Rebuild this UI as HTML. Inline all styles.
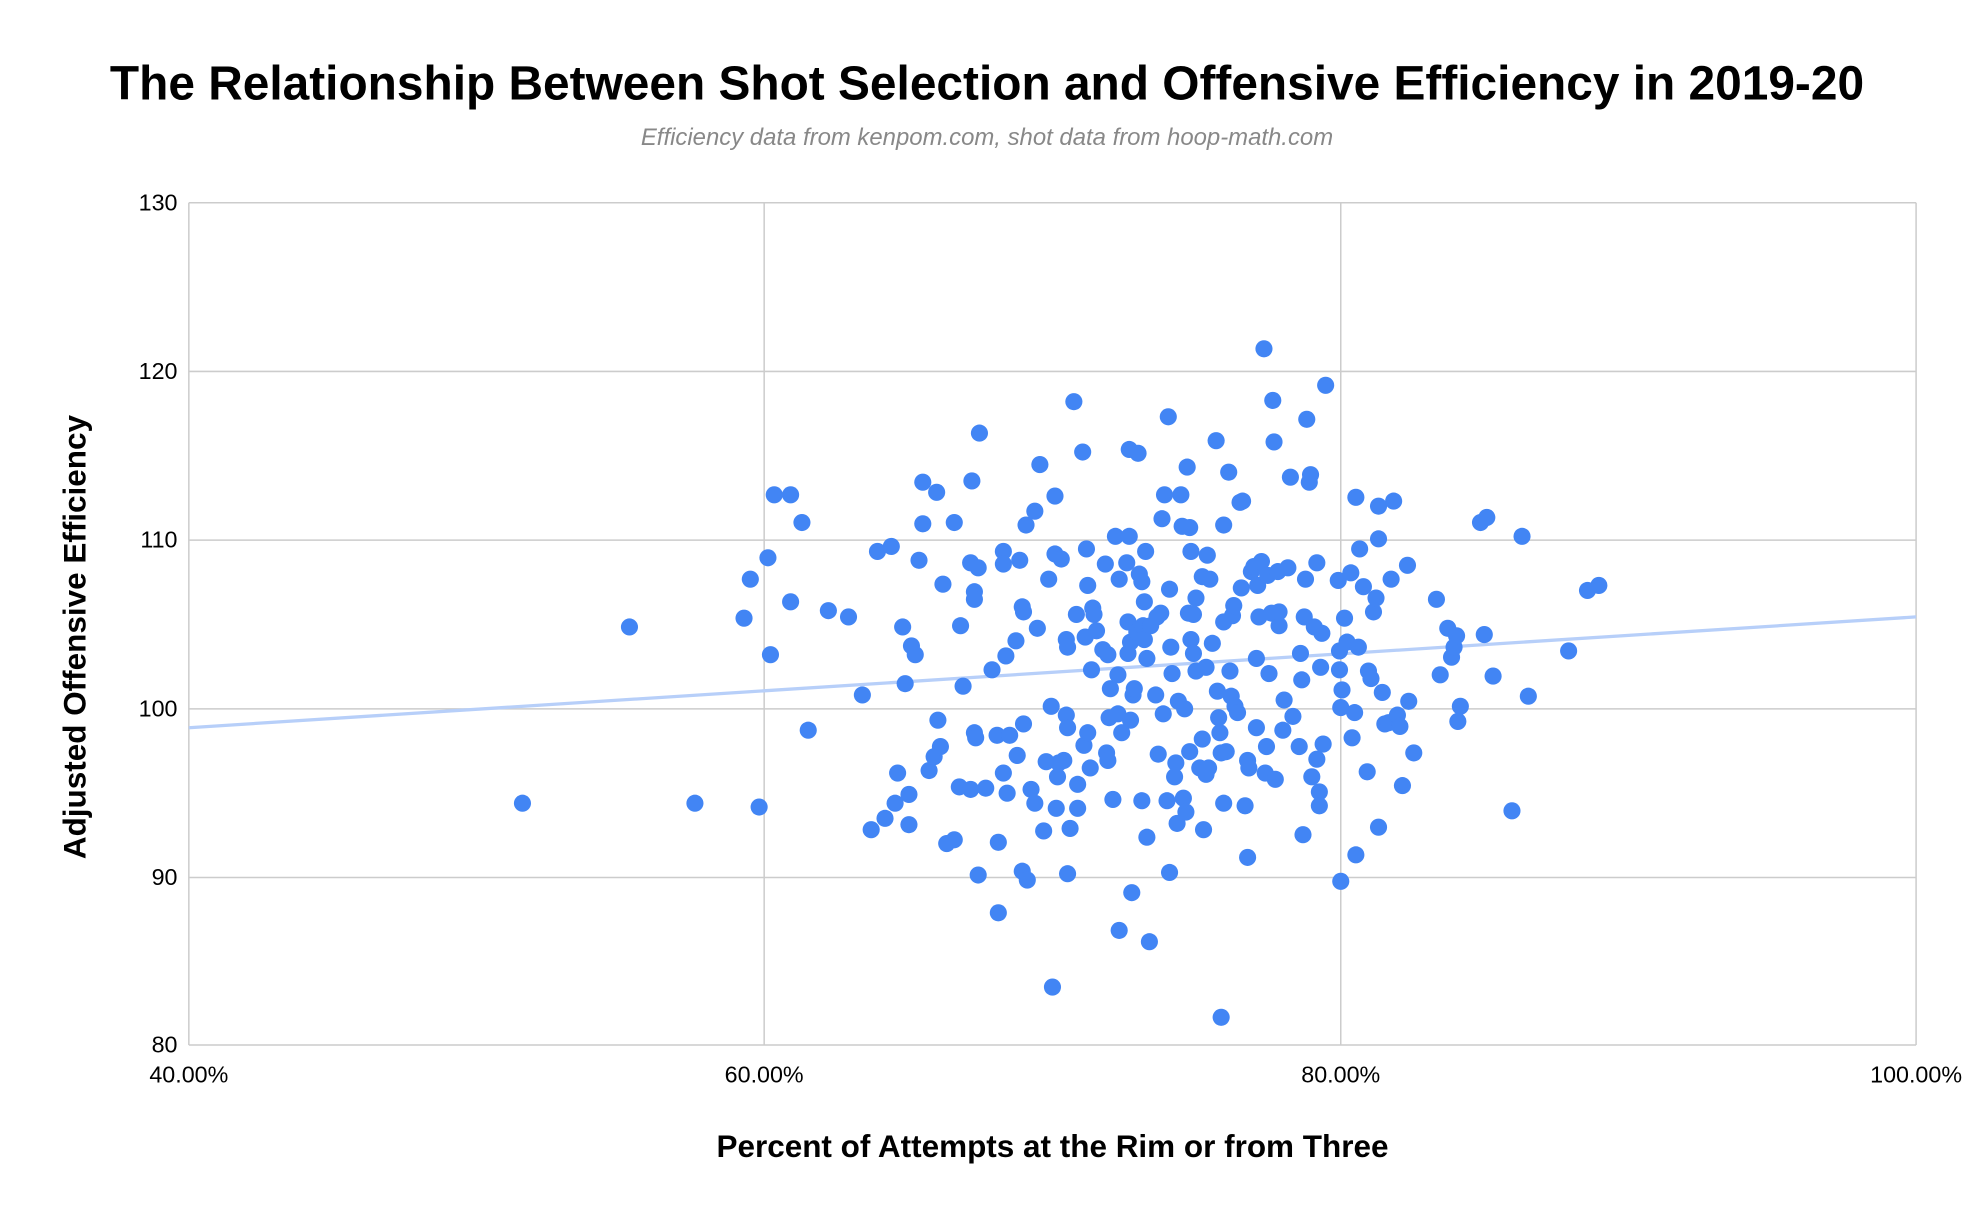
<!DOCTYPE html>
<html><head><meta charset="utf-8"><style>html,body{margin:0;padding:0;background:#fff}svg{display:block}</style></head>
<body>
<svg width="1974" height="1220" viewBox="0 0 1568 969" xmlns="http://www.w3.org/2000/svg" font-family="Liberation Sans, Arial, sans-serif">
<rect width="1568" height="969" fill="#fff"/>
<text x="784" y="79" text-anchor="middle" font-size="38" font-weight="bold" fill="#000">The Relationship Between Shot Selection and Offensive Efficiency in 2019-20</text>
<text x="784" y="115" text-anchor="middle" font-size="19" font-style="italic" fill="#888">Efficiency data from kenpom.com, shot data from hoop-math.com</text>
<g stroke="#ccc" stroke-width="1.2">
<line x1="150" y1="161" x2="1522" y2="161"/><line x1="150" y1="295" x2="1522" y2="295"/><line x1="150" y1="429" x2="1522" y2="429"/><line x1="150" y1="563" x2="1522" y2="563"/><line x1="150" y1="697" x2="1522" y2="697"/><line x1="150" y1="830" x2="1522" y2="830"/>
<line x1="150" y1="161" x2="150" y2="830"/><line x1="607" y1="161" x2="607" y2="830"/><line x1="1065" y1="161" x2="1065" y2="830"/><line x1="1522" y1="161" x2="1522" y2="830"/>
</g>
<g font-size="18.5" fill="#000" text-anchor="end">
<text x="141" y="167">130</text><text x="141" y="301">120</text><text x="141" y="435">110</text><text x="141" y="569">100</text><text x="141" y="703">90</text><text x="141" y="836">80</text>
</g>
<g font-size="18.5" fill="#000" text-anchor="middle">
<text x="150" y="860">40.00%</text><text x="607" y="860">60.00%</text><text x="1065" y="860">80.00%</text><text x="1522" y="860">100.00%</text>
</g>
<text x="836" y="919" text-anchor="middle" font-size="25" font-weight="bold">Percent of Attempts at the Rim or from Three</text>
<text transform="translate(68,506) rotate(-90)" text-anchor="middle" font-size="25" font-weight="bold">Adjusted Offensive Efficiency</text>
<line x1="150" y1="578" x2="1522" y2="490" stroke="#b7cff9" stroke-width="2.6"/>
<g fill="#4285f4">
<circle cx="415" cy="638" r="6.8"/><circle cx="500" cy="498" r="6.8"/><circle cx="552" cy="638" r="6.8"/><circle cx="603" cy="641" r="6.8"/><circle cx="591" cy="491" r="6.8"/><circle cx="596" cy="460" r="6.8"/><circle cx="610" cy="443" r="6.8"/><circle cx="612" cy="520" r="6.8"/><circle cx="615" cy="393" r="6.8"/><circle cx="628" cy="393" r="6.8"/><circle cx="628" cy="478" r="6.8"/><circle cx="637" cy="415" r="6.8"/><circle cx="642" cy="580" r="6.8"/><circle cx="658" cy="485" r="6.8"/><circle cx="674" cy="490" r="6.8"/><circle cx="685" cy="552" r="6.8"/><circle cx="692" cy="659" r="6.8"/><circle cx="697" cy="438" r="6.8"/><circle cx="703" cy="650" r="6.8"/><circle cx="708" cy="434" r="6.8"/><circle cx="711" cy="638" r="6.8"/><circle cx="713" cy="614" r="6.8"/><circle cx="717" cy="498" r="6.8"/><circle cx="719" cy="543" r="6.8"/><circle cx="722" cy="631" r="6.8"/><circle cx="722" cy="655" r="6.8"/><circle cx="724" cy="513" r="6.8"/><circle cx="727" cy="520" r="6.8"/><circle cx="730" cy="445" r="6.8"/><circle cx="733" cy="383" r="6.8"/><circle cx="733" cy="416" r="6.8"/><circle cx="738" cy="612" r="6.8"/><circle cx="742" cy="601" r="6.8"/><circle cx="744" cy="391" r="6.8"/><circle cx="745" cy="572" r="6.8"/><circle cx="747" cy="593" r="6.8"/><circle cx="749" cy="464" r="6.8"/><circle cx="752" cy="670" r="6.8"/><circle cx="758" cy="667" r="6.8"/><circle cx="758" cy="415" r="6.8"/><circle cx="762" cy="625" r="6.8"/><circle cx="763" cy="497" r="6.8"/><circle cx="765" cy="545" r="6.8"/><circle cx="771" cy="627" r="6.8"/><circle cx="772" cy="382" r="6.8"/><circle cx="771" cy="447" r="6.8"/><circle cx="774" cy="470" r="6.8"/><circle cx="774" cy="476" r="6.8"/><circle cx="774" cy="582" r="6.8"/><circle cx="775" cy="586" r="6.8"/><circle cx="777" cy="695" r="6.8"/><circle cx="778" cy="344" r="6.8"/><circle cx="777" cy="451" r="6.8"/><circle cx="783" cy="626" r="6.8"/><circle cx="788" cy="532" r="6.8"/><circle cx="792" cy="584" r="6.8"/><circle cx="793" cy="669" r="6.8"/><circle cx="793" cy="725" r="6.8"/><circle cx="797" cy="614" r="6.8"/><circle cx="797" cy="438" r="6.8"/><circle cx="797" cy="448" r="6.8"/><circle cx="799" cy="521" r="6.8"/><circle cx="802" cy="584" r="6.8"/><circle cx="800" cy="630" r="6.8"/><circle cx="807" cy="509" r="6.8"/><circle cx="808" cy="600" r="6.8"/><circle cx="810" cy="445" r="6.8"/><circle cx="812" cy="692" r="6.8"/><circle cx="812" cy="482" r="6.8"/><circle cx="813" cy="486" r="6.8"/><circle cx="813" cy="575" r="6.8"/><circle cx="816" cy="699" r="6.8"/><circle cx="815" cy="417" r="6.8"/><circle cx="819" cy="627" r="6.8"/><circle cx="822" cy="406" r="6.8"/><circle cx="824" cy="499" r="6.8"/><circle cx="822" cy="638" r="6.8"/><circle cx="826" cy="369" r="6.8"/><circle cx="829" cy="660" r="6.8"/><circle cx="831" cy="605" r="6.8"/><circle cx="833" cy="460" r="6.8"/><circle cx="835" cy="561" r="6.8"/><circle cx="836" cy="784" r="6.8"/><circle cx="838" cy="394" r="6.8"/><circle cx="839" cy="642" r="6.8"/><circle cx="838" cy="440" r="6.8"/><circle cx="841" cy="606" r="6.8"/><circle cx="840" cy="617" r="6.8"/><circle cx="843" cy="444" r="6.8"/><circle cx="845" cy="604" r="6.8"/><circle cx="847" cy="568" r="6.8"/><circle cx="847" cy="508" r="6.8"/><circle cx="848" cy="514" r="6.8"/><circle cx="848" cy="578" r="6.8"/><circle cx="848" cy="694" r="6.8"/><circle cx="850" cy="658" r="6.8"/><circle cx="853" cy="319" r="6.8"/><circle cx="856" cy="623" r="6.8"/><circle cx="855" cy="488" r="6.8"/><circle cx="856" cy="642" r="6.8"/><circle cx="860" cy="359" r="6.8"/><circle cx="861" cy="592" r="6.8"/><circle cx="862" cy="506" r="6.8"/><circle cx="863" cy="436" r="6.8"/><circle cx="864" cy="465" r="6.8"/><circle cx="864" cy="582" r="6.8"/><circle cx="866" cy="610" r="6.8"/><circle cx="867" cy="532" r="6.8"/><circle cx="868" cy="483" r="6.8"/><circle cx="869" cy="488" r="6.8"/><circle cx="871" cy="501" r="6.8"/><circle cx="876" cy="516" r="6.8"/><circle cx="878" cy="448" r="6.8"/><circle cx="879" cy="598" r="6.8"/><circle cx="880" cy="604" r="6.8"/><circle cx="880" cy="520" r="6.8"/><circle cx="881" cy="570" r="6.8"/><circle cx="882" cy="547" r="6.8"/><circle cx="884" cy="635" r="6.8"/><circle cx="886" cy="426" r="6.8"/><circle cx="888" cy="567" r="6.8"/><circle cx="888" cy="536" r="6.8"/><circle cx="889" cy="460" r="6.8"/><circle cx="889" cy="739" r="6.8"/><circle cx="891" cy="582" r="6.8"/><circle cx="895" cy="447" r="6.8"/><circle cx="896" cy="519" r="6.8"/><circle cx="896" cy="494" r="6.8"/><circle cx="897" cy="357" r="6.8"/><circle cx="897" cy="426" r="6.8"/><circle cx="898" cy="510" r="6.8"/><circle cx="898" cy="572" r="6.8"/><circle cx="899" cy="709" r="6.8"/><circle cx="900" cy="552" r="6.8"/><circle cx="901" cy="547" r="6.8"/><circle cx="904" cy="360" r="6.8"/><circle cx="903" cy="502" r="6.8"/><circle cx="905" cy="456" r="6.8"/><circle cx="907" cy="462" r="6.8"/><circle cx="907" cy="636" r="6.8"/><circle cx="908" cy="497" r="6.8"/><circle cx="909" cy="478" r="6.8"/><circle cx="909" cy="508" r="6.8"/><circle cx="910" cy="438" r="6.8"/><circle cx="911" cy="523" r="6.8"/><circle cx="911" cy="665" r="6.8"/><circle cx="913" cy="748" r="6.8"/><circle cx="914" cy="497" r="6.8"/><circle cx="918" cy="552" r="6.8"/><circle cx="919" cy="490" r="6.8"/><circle cx="920" cy="599" r="6.8"/><circle cx="922" cy="487" r="6.8"/><circle cx="923" cy="412" r="6.8"/><circle cx="924" cy="567" r="6.8"/><circle cx="925" cy="393" r="6.8"/><circle cx="927" cy="636" r="6.8"/><circle cx="928" cy="331" r="6.8"/><circle cx="929" cy="693" r="6.8"/><circle cx="929" cy="468" r="6.8"/><circle cx="930" cy="514" r="6.8"/><circle cx="931" cy="535" r="6.8"/><circle cx="933" cy="617" r="6.8"/><circle cx="934" cy="606" r="6.8"/><circle cx="935" cy="654" r="6.8"/><circle cx="936" cy="557" r="6.8"/><circle cx="938" cy="393" r="6.8"/><circle cx="939" cy="418" r="6.8"/><circle cx="940" cy="634" r="6.8"/><circle cx="941" cy="563" r="6.8"/><circle cx="942" cy="645" r="6.8"/><circle cx="943" cy="371" r="6.8"/><circle cx="944" cy="487" r="6.8"/><circle cx="945" cy="597" r="6.8"/><circle cx="945" cy="419" r="6.8"/><circle cx="946" cy="438" r="6.8"/><circle cx="946" cy="508" r="6.8"/><circle cx="948" cy="519" r="6.8"/><circle cx="948" cy="488" r="6.8"/><circle cx="950" cy="533" r="6.8"/><circle cx="950" cy="475" r="6.8"/><circle cx="953" cy="610" r="6.8"/><circle cx="955" cy="587" r="6.8"/><circle cx="955" cy="458" r="6.8"/><circle cx="956" cy="659" r="6.8"/><circle cx="958" cy="530" r="6.8"/><circle cx="958" cy="615" r="6.8"/><circle cx="959" cy="441" r="6.8"/><circle cx="960" cy="610" r="6.8"/><circle cx="961" cy="460" r="6.8"/><circle cx="963" cy="511" r="6.8"/><circle cx="966" cy="350" r="6.8"/><circle cx="967" cy="549" r="6.8"/><circle cx="968" cy="570" r="6.8"/><circle cx="969" cy="582" r="6.8"/><circle cx="970" cy="808" r="6.8"/><circle cx="970" cy="598" r="6.8"/><circle cx="972" cy="638" r="6.8"/><circle cx="972" cy="417" r="6.8"/><circle cx="972" cy="494" r="6.8"/><circle cx="974" cy="597" r="6.8"/><circle cx="976" cy="375" r="6.8"/><circle cx="977" cy="533" r="6.8"/><circle cx="978" cy="553" r="6.8"/><circle cx="979" cy="489" r="6.8"/><circle cx="980" cy="481" r="6.8"/><circle cx="981" cy="561" r="6.8"/><circle cx="983" cy="566" r="6.8"/><circle cx="985" cy="399" r="6.8"/><circle cx="986" cy="467" r="6.8"/><circle cx="987" cy="398" r="6.8"/><circle cx="989" cy="640" r="6.8"/><circle cx="991" cy="604" r="6.8"/><circle cx="992" cy="610" r="6.8"/><circle cx="991" cy="681" r="6.8"/><circle cx="994" cy="454" r="6.8"/><circle cx="996" cy="450" r="6.8"/><circle cx="998" cy="523" r="6.8"/><circle cx="998" cy="578" r="6.8"/><circle cx="999" cy="465" r="6.8"/><circle cx="1000" cy="490" r="6.8"/><circle cx="1002" cy="446" r="6.8"/><circle cx="1004" cy="277" r="6.8"/><circle cx="1005" cy="614" r="6.8"/><circle cx="1006" cy="593" r="6.8"/><circle cx="1007" cy="457" r="6.8"/><circle cx="1008" cy="535" r="6.8"/><circle cx="1010" cy="487" r="6.8"/><circle cx="1011" cy="318" r="6.8"/><circle cx="1012" cy="351" r="6.8"/><circle cx="1013" cy="619" r="6.8"/><circle cx="1015" cy="454" r="6.8"/><circle cx="1016" cy="497" r="6.8"/><circle cx="1016" cy="486" r="6.8"/><circle cx="1019" cy="580" r="6.8"/><circle cx="1020" cy="556" r="6.8"/><circle cx="1023" cy="451" r="6.8"/><circle cx="1025" cy="379" r="6.8"/><circle cx="1027" cy="569" r="6.8"/><circle cx="1032" cy="593" r="6.8"/><circle cx="1033" cy="519" r="6.8"/><circle cx="1034" cy="540" r="6.8"/><circle cx="1035" cy="663" r="6.8"/><circle cx="1036" cy="490" r="6.8"/><circle cx="1037" cy="460" r="6.8"/><circle cx="1038" cy="333" r="6.8"/><circle cx="1040" cy="383" r="6.8"/><circle cx="1041" cy="377" r="6.8"/><circle cx="1042" cy="617" r="6.8"/><circle cx="1044" cy="498" r="6.8"/><circle cx="1046" cy="603" r="6.8"/><circle cx="1046" cy="447" r="6.8"/><circle cx="1048" cy="629" r="6.8"/><circle cx="1048" cy="640" r="6.8"/><circle cx="1049" cy="530" r="6.8"/><circle cx="1050" cy="503" r="6.8"/><circle cx="1051" cy="591" r="6.8"/><circle cx="1053" cy="306" r="6.8"/><circle cx="1063" cy="461" r="6.8"/><circle cx="1064" cy="532" r="6.8"/><circle cx="1064" cy="517" r="6.8"/><circle cx="1065" cy="562" r="6.8"/><circle cx="1065" cy="700" r="6.8"/><circle cx="1066" cy="548" r="6.8"/><circle cx="1068" cy="491" r="6.8"/><circle cx="1070" cy="510" r="6.8"/><circle cx="1073" cy="455" r="6.8"/><circle cx="1074" cy="586" r="6.8"/><circle cx="1076" cy="566" r="6.8"/><circle cx="1077" cy="395" r="6.8"/><circle cx="1077" cy="679" r="6.8"/><circle cx="1079" cy="514" r="6.8"/><circle cx="1080" cy="436" r="6.8"/><circle cx="1083" cy="466" r="6.8"/><circle cx="1086" cy="613" r="6.8"/><circle cx="1087" cy="533" r="6.8"/><circle cx="1089" cy="539" r="6.8"/><circle cx="1091" cy="486" r="6.8"/><circle cx="1093" cy="475" r="6.8"/><circle cx="1095" cy="657" r="6.8"/><circle cx="1095" cy="428" r="6.8"/><circle cx="1095" cy="402" r="6.8"/><circle cx="1098" cy="550" r="6.8"/><circle cx="1100" cy="575" r="6.8"/><circle cx="1103" cy="574" r="6.8"/><circle cx="1105" cy="460" r="6.8"/><circle cx="1107" cy="398" r="6.8"/><circle cx="1110" cy="568" r="6.8"/><circle cx="1112" cy="577" r="6.8"/><circle cx="1114" cy="624" r="6.8"/><circle cx="1118" cy="449" r="6.8"/><circle cx="1119" cy="557" r="6.8"/><circle cx="1123" cy="598" r="6.8"/><circle cx="1141" cy="476" r="6.8"/><circle cx="1144" cy="536" r="6.8"/><circle cx="1150" cy="499" r="6.8"/><circle cx="1153" cy="522" r="6.8"/><circle cx="1155" cy="514" r="6.8"/><circle cx="1157" cy="505" r="6.8"/><circle cx="1158" cy="573" r="6.8"/><circle cx="1160" cy="561" r="6.8"/><circle cx="1176" cy="415" r="6.8"/><circle cx="1179" cy="504" r="6.8"/><circle cx="1181" cy="411" r="6.8"/><circle cx="1186" cy="537" r="6.8"/><circle cx="1201" cy="644" r="6.8"/><circle cx="1209" cy="426" r="6.8"/><circle cx="1214" cy="553" r="6.8"/><circle cx="1246" cy="517" r="6.8"/><circle cx="1261" cy="469" r="6.8"/><circle cx="1270" cy="465" r="6.8"/>
</g>
</svg>
</body></html>
